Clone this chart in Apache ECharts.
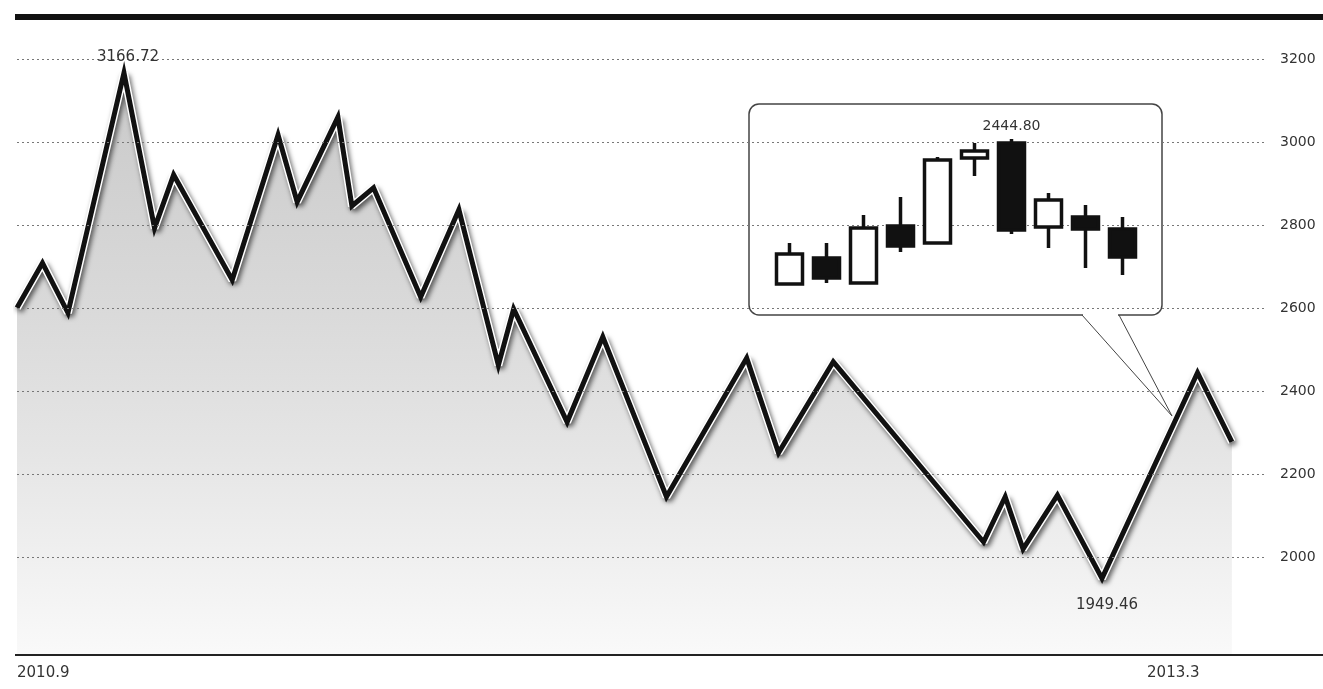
<!DOCTYPE html>
<html>
<head>
<meta charset="utf-8">
<script src="https://cdn.jsdelivr.net/npm/echarts@6/dist/echarts.min.js"></script>
<style>html,body{margin:0;padding:0;background:#fff;}#c{width:1323px;height:689px;}</style>
</head>
<body>
<div id="c"></div>
<script>
const pointDates = ['2010-09-01','2010-09-21','2010-10-11','2010-11-24','2010-12-18','2011-01-02','2011-02-17',
  '2011-03-25','2011-04-09','2011-05-11','2011-05-22','2011-06-08','2011-07-15','2011-08-14','2011-09-14',
  '2011-09-26','2011-11-07','2011-12-05','2012-01-24','2012-03-27','2012-04-21','2012-06-03','2012-09-29',
  '2012-10-16','2012-10-30','2012-11-26','2012-12-31','2013-03-16','2013-04-12'];
const indexValues = [2601,2709,2589,3166.72,2793,2921,2668,3017,2856,3060,2846,2890,2627,2837,2463,
  2598,2326,2531,2146,2480,2252,2471,2037,2146,2020,2150,1949.46,2444.80,2278];

// ---- axis ticks ----
const xTickDates = ['2010-09-01','2013-02-25'];
const xTickLabels = ['2010.9','2013.3'];
const yTickValues = [2000,2200,2400,2600,2800,3000,3200];

// ---- inset candlesticks: [open, close, low, high] ----
const insetCats = ['1','2','3','4','5','6','7','8','9','10'];
const insetOpen  = [2155,2207,2157,2271,2237,2407,2437,2269,2289,2265];
const insetClose = [2215,2167,2267,2231,2403,2421,2263,2323,2265,2209];
const insetLow   = [2155,2157,2157,2219,2237,2371,2255,2227,2187,2173];
const insetHigh  = [2237,2237,2293,2329,2409,2437,2444.80,2337,2313,2289];

function ts(s){ const p = s.split('-').map(Number); return new Date(p[0], p[1]-1, p[2]).getTime(); }

const lineData = pointDates.map((d,i) => [ts(d), indexValues[i]]);
const candleData = insetCats.map((c,i) => [insetOpen[i], insetClose[i], insetLow[i], insetHigh[i]]);
const xTickTs = xTickDates.map(ts);

const FONT = 'DejaVu Sans';
const chart = echarts.init(document.getElementById('c'));
chart.setOption({
  animation: false,
  backgroundColor: '#fff',
  grid: [
    {left: 17, right: 58, top: 59, bottom: 34},
    {left: 771, width: 370, top: 129, height: 171}
  ],
  xAxis: [
    {type: 'value', gridIndex: 0, min: ts('2010-09-01'), max: ts('2013-05-08'),
     axisLine: {show: false}, axisTick: {show: false}, splitLine: {show: false},
     axisLabel: {customValues: xTickTs, margin: 11, alignMinLabel: 'left',
       color: '#333', fontFamily: FONT, fontSize: 15,
       formatter: function (v) {
         let best = 0;
         xTickTs.forEach((t,i) => { if (Math.abs(t - v) < Math.abs(xTickTs[best] - v)) best = i; });
         return xTickLabels[best];
       }}},
    {type: 'category', gridIndex: 1, data: insetCats, show: false, boundaryGap: true}
  ],
  yAxis: [
    {type: 'value', gridIndex: 0, position: 'right', min: 1765, max: 3200,
     axisLine: {show: false}, axisTick: {show: false}, splitLine: {show: false},
     axisLabel: {customValues: yTickValues, margin: 15, color: '#333', fontFamily: FONT, fontSize: 14,
       formatter: v => String(v)}},
    {type: 'value', gridIndex: 1, min: 2122.8, max: 2464.8, show: false}
  ],
  graphic: [
    {type: 'rect', shape: {x: 15, y: 14, width: 1308, height: 6}, style: {fill: '#111'}, z: 10},
    {type: 'line', shape: {x1: 15, y1: 655, x2: 1323, y2: 655}, style: {stroke: '#222', lineWidth: 2}, z: 10},
    {type: 'rect', shape: {x: 749, y: 104, width: 413, height: 211, r: 10},
     style: {fill: '#fff', stroke: '#444', lineWidth: 1.5}, z: 5},
    {type: 'line', shape: {x1: 1083, y1: 315, x2: 1118, y2: 315}, style: {stroke: '#fff', lineWidth: 3}, z: 6},
    {type: 'polyline', shape: {points: [[1082, 315], [1172, 416], [1119, 315]]},
     style: {stroke: '#444', lineWidth: 1, fill: null}, z: 6}
  ],
  series: [
    {
      type: 'line', xAxisIndex: 0, yAxisIndex: 0, data: lineData, symbol: 'none', z: 2,
      lineStyle: {color: '#fff', width: 8, shadowColor: 'rgba(0,0,0,0.6)', shadowBlur: 5,
        shadowOffsetX: 2, shadowOffsetY: 3},
      areaStyle: {color: new echarts.graphic.LinearGradient(0, 0, 0, 1, [
        {offset: 0, color: '#b2b2b2'}, {offset: 0.4, color: '#c9c9c9'},
        {offset: 0.65, color: '#dadada'}, {offset: 1, color: '#f7f7f7'}])},
      markLine: {
        silent: true, symbol: ['none', 'none'], label: {show: false},
        lineStyle: {type: [2, 3], color: '#777', width: 1},
        data: yTickValues.map(v => ({yAxis: v}))
      }
    },
    {
      type: 'line', xAxisIndex: 0, yAxisIndex: 0, data: lineData, symbol: 'none', z: 3,
      lineStyle: {color: '#111', width: 5, join: 'miter'},
      markPoint: {
        symbol: 'circle', symbolSize: 1, itemStyle: {color: 'rgba(0,0,0,0)'},
        label: {color: '#333', fontFamily: FONT, fontSize: 15, formatter: p => Number(p.value).toFixed(2)},
        data: [
          {type: 'max', label: {position: 'top', distance: 8, offset: [4, 0]}},
          {type: 'min', label: {position: 'bottom', distance: 19, offset: [5, 0]}}
        ]
      }
    },
    {
      type: 'candlestick', xAxisIndex: 1, yAxisIndex: 1, data: candleData, barWidth: 27, z: 10,
      itemStyle: {color: '#fff', color0: '#111', borderColor: '#111', borderColor0: '#111', borderWidth: 3.5},
      markPoint: {
        symbol: 'circle', symbolSize: 1, itemStyle: {color: 'rgba(0,0,0,0)'},
        label: {position: 'top', distance: 5, color: '#333', fontFamily: FONT, fontSize: 14,
          formatter: p => Number(p.value).toFixed(2)},
        data: [{type: 'max', valueDim: 'highest'}]
      }
    }
  ]
});
</script>
</body>
</html>
